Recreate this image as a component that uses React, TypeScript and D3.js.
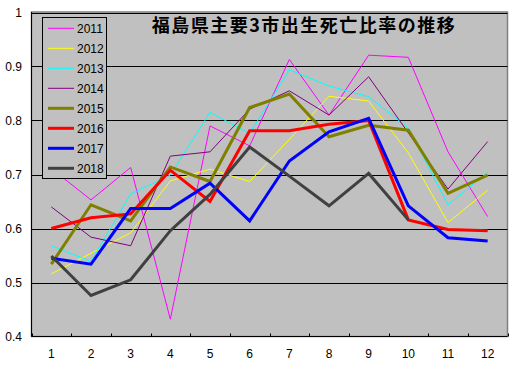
import React from "react";
import * as d3 from "d3";

const months = [1, 2, 3, 4, 5, 6, 7, 8, 9, 10, 11, 12];
const yTicks = [0.4, 0.5, 0.6, 0.7, 0.8, 0.9, 1.0];
const title = "福島県主要3市出生死亡比率の推移";

const seriesNames = ["2011", "2012", "2013", "2014", "2015", "2016", "2017", "2018"];
const seriesColors = ["#FF00FF", "#FFFF00", "#00FFFF", "#800080", "#808000", "#FF0000", "#0000FF", "#404040"];
const seriesWidths = [1, 1, 1, 1, 3, 3, 3, 3];

const v2011 = [0.711, 0.653, 0.713, 0.432, 0.790, 0.753, 0.913, 0.810, 0.921, 0.917, 0.742, 0.622];
const v2012 = [0.516, 0.554, 0.592, 0.688, 0.710, 0.687, 0.765, 0.845, 0.836, 0.740, 0.611, 0.671];
const v2013 = [0.568, 0.539, 0.664, 0.699, 0.815, 0.776, 0.894, 0.864, 0.844, 0.786, 0.644, 0.704];
const v2014 = [0.640, 0.584, 0.568, 0.734, 0.742, 0.821, 0.855, 0.810, 0.881, 0.777, 0.673, 0.761];
const v2015 = [0.534, 0.644, 0.614, 0.714, 0.687, 0.824, 0.849, 0.770, 0.791, 0.782, 0.665, 0.699];
const v2016 = [0.600, 0.620, 0.627, 0.708, 0.650, 0.781, 0.781, 0.793, 0.800, 0.616, 0.598, 0.596];
const v2017 = [0.545, 0.534, 0.637, 0.637, 0.684, 0.614, 0.725, 0.779, 0.804, 0.642, 0.583, 0.577];
const v2018 = [0.549, 0.476, 0.505, 0.596, 0.663, 0.751, 0.697, 0.642, 0.702, 0.616];

const seriesValues = [v2011, v2012, v2013, v2014, v2015, v2016, v2017, v2018];

export default function App() {
  const W = 517, H = 366;
  const left = 31.5, right = 507.5, top = 12, bottom = 336.5;
  const x = d3.scaleBand<number>().domain(months).range([left, right]).padding(0);
  const y = d3.scaleLinear().domain([0.4, 1.0]).range([bottom, top + 0.5]);
  const line = d3
    .line<number>()
    .x((_, i) => (x(months[i]) as number) + x.bandwidth() / 2)
    .y((d) => y(d));
  const font = "'Liberation Sans', Arial, sans-serif";
  const boundaries = months.map((m) => x(m) as number).concat([right]);

  return (
    <svg width={W} height={H} style={{ position: "absolute", left: 0, top: 0, background: "#fff" }}>
      <rect x={left} y={top} width={right - left} height={bottom - top} fill="#C0C0C0" stroke="#808080" strokeWidth={1.5} />
      {yTicks.slice(1).map((t) => (
        <line key={t} x1={left} x2={right} y1={Math.round(y(t)) + 0.5} y2={Math.round(y(t)) + 0.5} stroke="#000" strokeWidth={1} />
      ))}
      {yTicks.map((t) => (
        <text key={"l" + t} x={22} y={y(t) + 4.5} textAnchor="end" fontFamily={font} fontSize={12} fill="#000">
          {t === 1 ? "1" : d3.format(".1f")(t)}
        </text>
      ))}
      {seriesValues.map((vals, i) => (
        <path key={seriesNames[i]} d={line(vals) || ""} fill="none" stroke={seriesColors[i]} strokeWidth={seriesWidths[i]} strokeLinejoin="miter" />
      ))}
      <line x1={left} x2={left} y1={top} y2={bottom} stroke="#000" strokeWidth={1} />
      <line x1={left} x2={right} y1={bottom} y2={bottom} stroke="#000" strokeWidth={1} />
      {boundaries.map((b, i) => (
        <line key={"t" + i} x1={Math.round(b) + 0.5} x2={Math.round(b) + 0.5} y1={bottom} y2={bottom - 3} stroke="#000" strokeWidth={1} />
      ))}
      {months.map((m) => (
        <text key={"m" + m} x={(x(m) as number) + x.bandwidth() / 2} y={bottom + 21} textAnchor="middle" fontFamily={font} fontSize={12} fill="#000">
          {m}
        </text>
      ))}
      <text x={304} y={32} textAnchor="middle" fontFamily="'Noto Sans CJK JP', sans-serif" fontWeight="bold" fontSize={18} letterSpacing={1.5} fill="#000">
        {title}
      </text>
      <rect x={42.5} y={17.5} width={64} height={161} fill="#C0C0C0" stroke="#000" strokeWidth={1} />
      {seriesNames.map((n, i) => {
        const yy = 28.3 + i * 20;
        return (
          <g key={"lg" + n}>
            <line x1={48} x2={74} y1={yy} y2={yy} stroke={seriesColors[i]} strokeWidth={seriesWidths[i]} />
            <text x={77} y={yy + 4.5} fontFamily={font} fontSize={12} fill="#000">
              {n}
            </text>
          </g>
        );
      })}
    </svg>
  );
}
